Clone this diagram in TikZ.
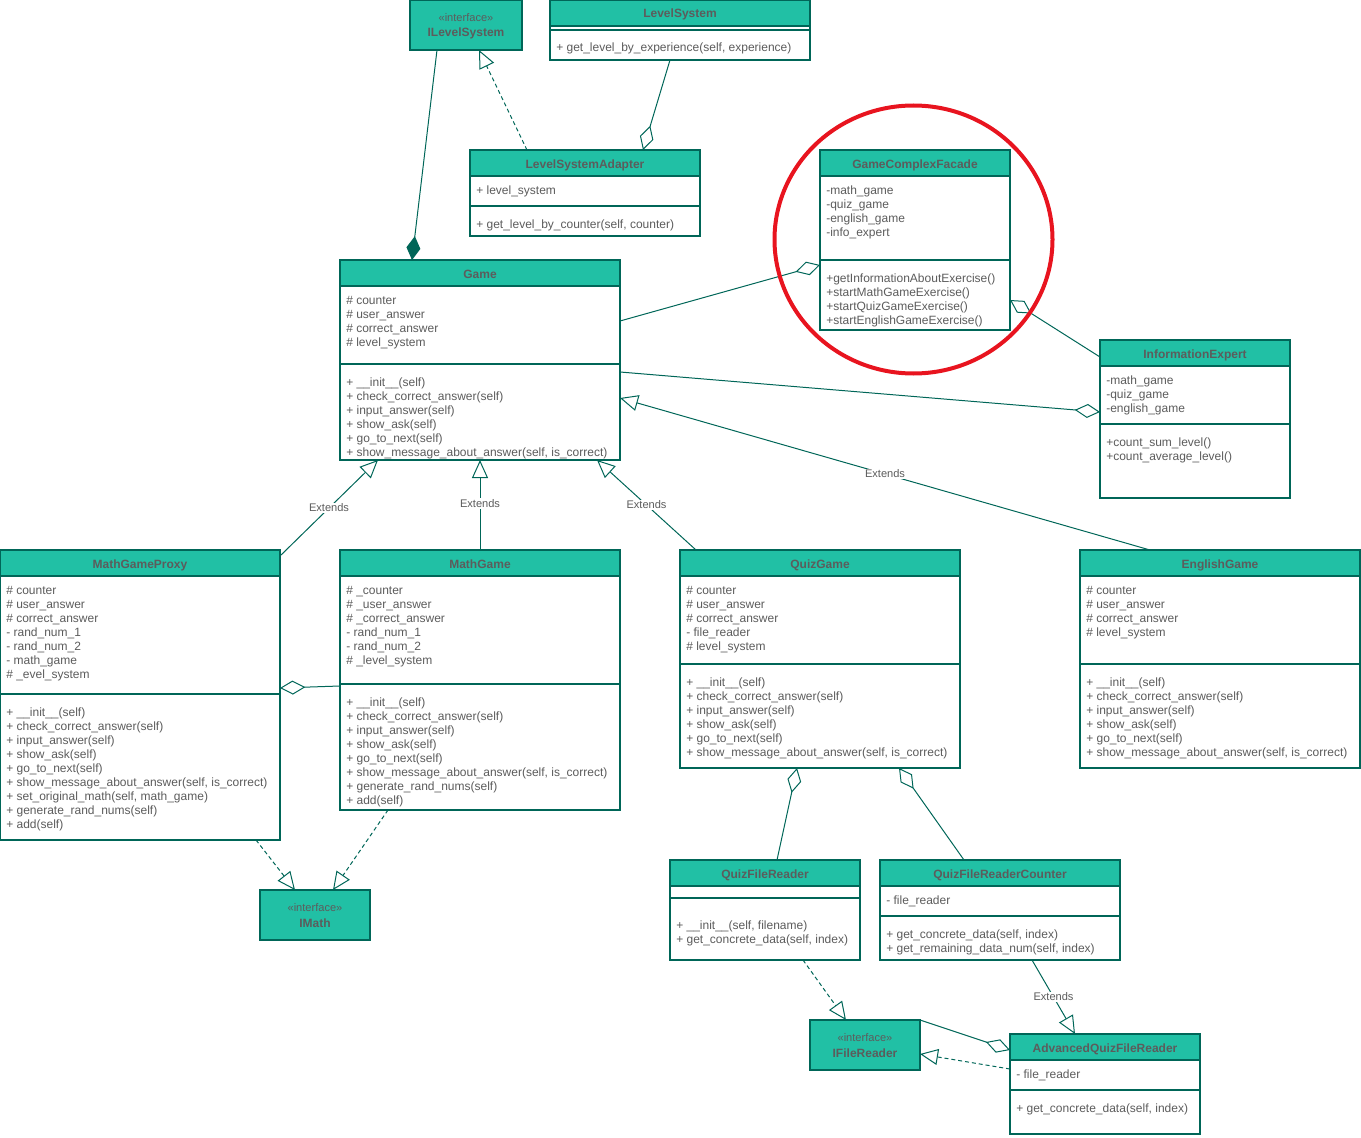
\documentclass[tikz,border=0pt]{standalone}
\usepackage{fontspec}
\setmainfont{Liberation Sans}
\usetikzlibrary{arrows.meta,calc}
\definecolor{tealfill}{HTML}{21C0A5}
\definecolor{tealline}{HTML}{006658}
\definecolor{txtgrey}{HTML}{5C5C5C}
\definecolor{circred}{HTML}{E8141F}
\tikzset{
  cbox/.style={draw=tealline, fill=white, line width=0.8pt, inner sep=0pt, outer sep=0pt},
  ibox/.style={draw=tealline, fill=tealfill, line width=0.8pt, inner sep=0pt, outer sep=0pt},
  hdr/.style={draw=tealline, fill=tealfill, line width=0.8pt},
  cline/.style={draw=tealline, line width=0.8pt},
  conn/.style={draw=tealline, line width=0.75pt},
  txt/.style={font=\fontsize{9}{10.5}\selectfont, text=txtgrey, inner sep=0pt, anchor=base west},
  ttl/.style={font=\fontsize{9}{10.5}\selectfont\bfseries, text=txtgrey, inner sep=0pt},
  lbl/.style={font=\fontsize{8.3}{10}\selectfont, text=txtgrey, fill=white, inner sep=1pt},
  agg/.style={conn, -{Diamond[open, length=19pt, width=10.5pt]}},
  comp/.style={conn, -{Diamond[length=18pt, width=10.5pt]}},
  ext/.style={conn, -{Triangle[open, length=13.5pt, width=12pt]}},
  real/.style={conn, dash pattern=on 3pt off 2.2pt, -{Triangle[open, length=13.5pt, width=12pt]}},
}
\newcommand\ucls[6]{%
  \node[cbox, minimum width=#4*0.75pt, minimum height=#5*0.75pt, anchor=north west] (#1) at (#2,#3) {};
  \draw[hdr] (#1.north west) rectangle ([shift={(#4,26)}]#1.north west);
  \node[ttl, anchor=base] at ([shift={(#4/2,18)}]#1.north west) {#6};
}
\newcommand\iface[6]{%
  \node[ibox, minimum width=#4*0.75pt, minimum height=#5*0.75pt, anchor=north west] (#1) at (#2,#3) {};
  \node[txt, anchor=base, font=\fontsize{8.3}{10}\selectfont] at ([shift={(#4/2,21.5)}]#1.north west) {«interface»};
  \node[ttl, anchor=base] at ([shift={(#4/2,37)}]#1.north west) {#6};
}
\newcommand\usep[2]{\draw[cline] ([shift={(0,#2)}]#1.north west) -- ([shift={(0,#2)}]#1.north east);}
\newcommand\ulines[3]{\foreach \t [count=\i from 0] in {#3} \node[txt] at ([shift={(6,#2+5+14*\i)}]#1.north west) {\t};}
\begin{document}
\begin{tikzpicture}[x=0.75pt, y=-0.75pt]
\useasboundingbox (0,0) rectangle (1361,1138);

% ---- classes ----
\iface{ils}{410}{0}{112}{50}{ILevelSystem}

\ucls{ls}{550}{0}{260}{60}{LevelSystem}
\usep{ls}{30}
\ulines{ls}{47}{{+ get\_level\_by\_experience(self, experience)}}

\ucls{lsa}{470}{150}{230}{86}{LevelSystemAdapter}
\ulines{lsa}{39}{{+ level\_system}}
\usep{lsa}{56}
\ulines{lsa}{73}{{+ get\_level\_by\_counter(self, counter)}}

\ucls{gcf}{820}{150}{190}{180}{GameComplexFacade}
\ulines{gcf}{39}{{-math\_game},{-quiz\_game},{-english\_game},{-info\_expert}}
\usep{gcf}{110}
\ulines{gcf}{127}{{+getInformationAboutExercise()},{+startMathGameExercise()},{+startQuizGameExercise()},{+startEnglishGameExercise()}}

\ucls{game}{340}{260}{280}{200}{Game}
\ulines{game}{39}{{\# counter},{\# user\_answer},{\# correct\_answer},{\# level\_system}}
\usep{game}{104}
\ulines{game}{121}{{+ \_\_init\_\_(self)},{+ check\_correct\_answer(self)},{+ input\_answer(self)},{+ show\_ask(self)},{+ go\_to\_next(self)},{+ show\_message\_about\_answer(self, is\_correct)}}

\ucls{ie}{1100}{340}{190}{158}{InformationExpert}
\ulines{ie}{39}{{-math\_game},{-quiz\_game},{-english\_game}}
\usep{ie}{84}
\ulines{ie}{101}{{+count\_sum\_level()},{+count\_average\_level()}}

\ucls{mgp}{0}{550}{280}{290}{MathGameProxy}
\ulines{mgp}{39}{{\# counter},{\# user\_answer},{\# correct\_answer},{- rand\_num\_1},{- rand\_num\_2},{- math\_game},{\# \_evel\_system}}
\usep{mgp}{144}
\ulines{mgp}{161}{{+ \_\_init\_\_(self)},{+ check\_correct\_answer(self)},{+ input\_answer(self)},{+ show\_ask(self)},{+ go\_to\_next(self)},{+ show\_message\_about\_answer(self, is\_correct)},{+ set\_original\_math(self, math\_game)},{+ generate\_rand\_nums(self)},{+ add(self)}}

\ucls{mg}{340}{550}{280}{260}{MathGame}
\ulines{mg}{39}{{\# \_counter},{\# \_user\_answer},{\# \_correct\_answer},{- rand\_num\_1},{- rand\_num\_2},{\# \_level\_system}}
\usep{mg}{134}
\ulines{mg}{151}{{+ \_\_init\_\_(self)},{+ check\_correct\_answer(self)},{+ input\_answer(self)},{+ show\_ask(self)},{+ go\_to\_next(self)},{+ show\_message\_about\_answer(self, is\_correct)},{+ generate\_rand\_nums(self)},{+ add(self)}}

\ucls{qg}{680}{550}{280}{218}{QuizGame}
\ulines{qg}{39}{{\# counter},{\# user\_answer},{\# correct\_answer},{- file\_reader},{\# level\_system}}
\usep{qg}{114}
\ulines{qg}{131}{{+ \_\_init\_\_(self)},{+ check\_correct\_answer(self)},{+ input\_answer(self)},{+ show\_ask(self)},{+ go\_to\_next(self)},{+ show\_message\_about\_answer(self, is\_correct)}}

\ucls{eg}{1080}{550}{280}{218}{EnglishGame}
\ulines{eg}{39}{{\# counter},{\# user\_answer},{\# correct\_answer},{\# level\_system}}
\usep{eg}{114}
\ulines{eg}{131}{{+ \_\_init\_\_(self)},{+ check\_correct\_answer(self)},{+ input\_answer(self)},{+ show\_ask(self)},{+ go\_to\_next(self)},{+ show\_message\_about\_answer(self, is\_correct)}}

\iface{imath}{260}{890}{110}{50}{IMath}

\ucls{qfr}{670}{860}{190}{100}{QuizFileReader}
\usep{qfr}{38}
\ulines{qfr}{64}{{+ \_\_init\_\_(self, filename)},{+ get\_concrete\_data(self, index)}}

\ucls{qfrc}{880}{860}{240}{100}{QuizFileReaderCounter}
\ulines{qfrc}{39}{{- file\_reader}}
\usep{qfrc}{56}
\ulines{qfrc}{73}{{+ get\_concrete\_data(self, index)},{+ get\_remaining\_data\_num(self, index)}}

\iface{ifr}{810}{1020}{110}{50}{IFileReader}

\ucls{aqfr}{1010}{1034}{190}{100}{AdvancedQuizFileReader}
\ulines{aqfr}{39}{{- file\_reader}}
\usep{aqfr}{56}
\ulines{aqfr}{73}{{+ get\_concrete\_data(self, index)}}

% ---- connectors ----
\draw[comp] ([shift={(27,50)}]ils.north west) -- ([shift={(72,0)}]game.north west);
\draw[real] ([shift={(57,0)}]lsa.north west) -- ([shift={(69,50)}]ils.north west);
\draw[agg] ([shift={(120,60)}]ls.north west) -- ([shift={(173,0)}]lsa.north west);
\draw[agg] ([shift={(280,61)}]game.north west) -- ([shift={(0,115)}]gcf.north west);
\draw[agg] ([shift={(0,17)}]ie.north west) -- ([shift={(190,150)}]gcf.north west);
\draw[agg] ([shift={(280,112)}]game.north west) -- ([shift={(0,72)}]ie.north west);
\draw[ext] ([shift={(280,6)}]mgp.north west) -- node[lbl]{Extends} ([shift={(38,200)}]game.north west);
\draw[ext] ([shift={(140,0)}]mg.north west) -- node[lbl, pos=0.52]{Extends} ([shift={(140,200)}]game.north west);
\draw[ext] ([shift={(16,0)}]qg.north west) -- node[lbl]{Extends} ([shift={(257,200)}]game.north west);
\draw[ext] ([shift={(70,0)}]eg.north west) -- node[lbl]{Extends} ([shift={(280,138)}]game.north west);
\draw[agg] ([shift={(0,136)}]mg.north west) -- ([shift={(280,138)}]mgp.north west);
\draw[real] ([shift={(256,290)}]mgp.north west) -- ([shift={(35,0)}]imath.north west);
\draw[real] ([shift={(48,260)}]mg.north west) -- ([shift={(73,0)}]imath.north west);
\draw[agg] ([shift={(107,0)}]qfr.north west) -- ([shift={(117,218)}]qg.north west);
\draw[agg] ([shift={(84,0)}]qfrc.north west) -- ([shift={(219,218)}]qg.north west);
\draw[real] ([shift={(133,100)}]qfr.north west) -- ([shift={(36,0)}]ifr.north west);
\draw[ext] ([shift={(152,100)}]qfrc.north west) -- node[lbl]{Extends} ([shift={(65,0)}]aqfr.north west);
\draw[agg] (ifr.north east) -- ([shift={(0,16)}]aqfr.north west);
\draw[real] ([shift={(0,35)}]aqfr.north west) -- ([shift={(110,34)}]ifr.north west);

% ---- highlight ----
\draw[circred, line width=3pt] (913.5,239.5) ellipse [x radius=104.25pt, y radius=100.5pt];
\end{tikzpicture}
\end{document}
